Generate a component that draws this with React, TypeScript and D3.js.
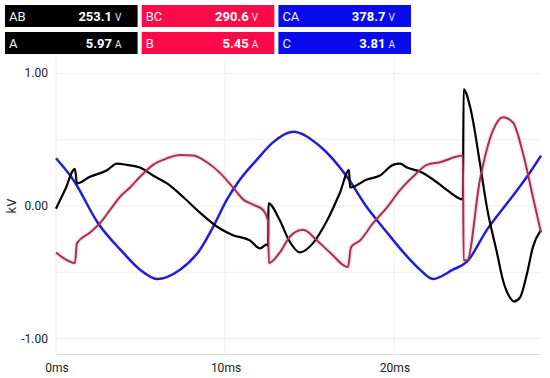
import React from 'react';
import * as d3 from 'd3';

// header readouts
const voltLabels = ['AB', 'BC', 'CA'];
const voltValues = ['253.1', '290.6', '378.7'];
const ampLabels = ['A', 'B', 'C'];
const ampValues = ['5.97', '5.45', '3.81'];
const phaseColors = ['#000000', '#ff0a48', '#0a0aee'];

// waveforms: [ms, kV]
const blackWave = [
  [0, -0.02], [0.53, 0.12], [1.12, 0.28], [1.24, 0.17], [2.01, 0.22], [3.02, 0.27], [3.61, 0.32],
  [4.2, 0.31], [4.97, 0.29], [5.74, 0.23], [6.57, 0.17], [7.51, 0.07], [8.52, -0.05], [9.7, -0.17],
  [10.47, -0.22], [11.48, -0.26], [12.07, -0.32], [12.49, -0.29], [12.55, -0.3], [12.57, 0.02],
  [13.25, -0.11], [13.79, -0.26], [14.44, -0.35], [15.21, -0.28], [16.04, -0.11], [16.8, 0.1],
  [17.34, 0.27], [17.4, 0.14], [18.4, 0.2], [19.17, 0.23], [19.94, 0.31], [20.36, 0.32],
  [20.77, 0.29], [21.54, 0.26], [22.31, 0.2], [23.14, 0.12], [24.08, 0.05], [24.12, 0.88],
  [24.5, 0.75], [25.09, 0.32], [25.5, -0.01], [26.09, -0.35], [26.45, -0.56], [26.86, -0.69],
  [27.1, -0.72], [27.46, -0.69], [27.87, -0.51], [28.22, -0.31], [28.7, -0.18],
];
const redWave = [
  [0, -0.35], [0.41, -0.39], [1.12, -0.43], [1.24, -0.28], [2.01, -0.2], [2.6, -0.13], [3.2, -0.03],
  [3.79, 0.07], [4.38, 0.14], [4.97, 0.22], [5.74, 0.31], [6.57, 0.36], [7.34, 0.385], [8.11, 0.38],
  [8.93, 0.33], [9.7, 0.25], [10.47, 0.14], [11.07, 0.05], [11.66, 0.01], [12.25, -0.03],
  [12.54, -0.11], [12.6, -0.43], [13.25, -0.35], [13.85, -0.23], [14.62, -0.18], [15.44, -0.26],
  [16.21, -0.35], [17.28, -0.46], [17.46, -0.31], [17.99, -0.26], [18.76, -0.13], [19.59, -0.01],
  [20.36, 0.12], [21.12, 0.22], [21.95, 0.31], [22.72, 0.33], [24.08, 0.38], [24.12, -0.41],
  [24.32, -0.41], [25.09, 0.2], [25.86, 0.57], [26.45, 0.67], [27.04, 0.63], [27.63, 0.4],
  [28.22, 0.07], [28.7, -0.2],
];
const blueWave = [
  [0, 0.36], [1.01, 0.2], [2.49, -0.13], [3.96, -0.35], [4.97, -0.48], [5.98, -0.55], [7.34, -0.48],
  [8.52, -0.33], [9.29, -0.16], [10.12, 0.05], [10.89, 0.2], [11.89, 0.35], [12.84, 0.48],
  [14.02, 0.56], [15.62, 0.45], [17.22, 0.22], [18.4, -0.01], [19.59, -0.2], [20.77, -0.38],
  [21.54, -0.48], [22.31, -0.55], [23.49, -0.48], [24.32, -0.42], [25.5, -0.18], [26.69, 0.02],
  [27.87, 0.22], [28.7, 0.38],
];

const xTicks = [0, 10, 20];
const yGrid = [-1, -0.5, 0, 0.5, 1];
const yLabels = [-1, 0, 1];

const W = 550;
const H = 378;
const font = 'Roboto, sans-serif';

const App = () => {
  const x = d3.scaleLinear().domain([0, 28.7]).range([56, 541]);
  const y = d3.scaleLinear().domain([-1.12, 1.12]).range([354.5, 57.5]);
  const line = d3.line<number[]>().x(d => x(d[0])).y(d => y(d[1])).curve(d3.curveMonotoneX);

  const boxX = d3.scaleBand<number>().domain([0, 1, 2]).range([5, 411]).paddingInner(0.03);

  const readout = (labels: string[], values: string[], unit: string, top: number) =>
    labels.map((lab, i) => {
      const bx = boxX(i) as number;
      return (
        <g key={unit + i}>
          <rect x={bx} y={top} width={boxX.bandwidth()} height={22} fill={phaseColors[i]} />
          <text x={bx + 4} y={top + 16} fill="#f2f2f2" fontSize={13} fontFamily={font}>{lab}</text>
          <text x={bx + 107} y={top + 16} fill="#fff" fontSize={13} fontWeight="bold"
            fontFamily={font} textAnchor="end">{values[i]}</text>
          <text x={bx + 110} y={top + 16} fill="#e6e6e6" fontSize={10} fontFamily={font}>{unit}</text>
        </g>
      );
    });

  return (
    <svg width={W} height={H} style={{ position: 'absolute', left: 0, top: 0, background: '#fff' }}>
      {readout(voltLabels, voltValues, 'V', 5)}
      {readout(ampLabels, ampValues, 'A', 32)}

      {/* grid */}
      {yGrid.map(v => (
        <line key={'gy' + v} x1={x(0)} x2={x(28.7)} y1={y(v)} y2={y(v)} stroke="#efefef" />
      ))}
      {xTicks.map(t => (
        <line key={'gx' + t} x1={x(t)} x2={x(t)} y1={57} y2={354.5} stroke="#ececec" />
      ))}
      <line x1={x(0)} x2={x(28.7)} y1={354.5} y2={354.5} stroke="#dcdcdc" />

      {/* axes labels */}
      {yLabels.map(v => (
        <text key={'ly' + v} x={48} y={y(v) + 4} textAnchor="end" fontSize={12}
          fontFamily={font} fill="#222">{v.toFixed(2)}</text>
      ))}
      {xTicks.map(t => (
        <text key={'lx' + t} x={x(t) + 1} y={372} textAnchor="middle" fontSize={12}
          fontFamily={font} fill="#222">{t}ms</text>
      ))}
      <text transform={`translate(16,${y(0)}) rotate(-90)`} textAnchor="middle" fontSize={13}
        fontFamily={font} fill="#222">kV</text>

      {/* waves */}
      <path d={line(redWave) || ''} fill="none" stroke="#f7b4cc" strokeWidth={5} strokeOpacity={0.35} />
      <path d={line(blueWave) || ''} fill="none" stroke="#1f1fd6" strokeWidth={2.5} strokeLinejoin="round" />
      <path d={line(blackWave) || ''} fill="none" stroke="#000" strokeWidth={2.2} strokeLinejoin="round" />
      <path d={line(redWave) || ''} fill="none" stroke="#a8304f" strokeWidth={2} strokeLinejoin="round" />
    </svg>
  );
};

export default App;
